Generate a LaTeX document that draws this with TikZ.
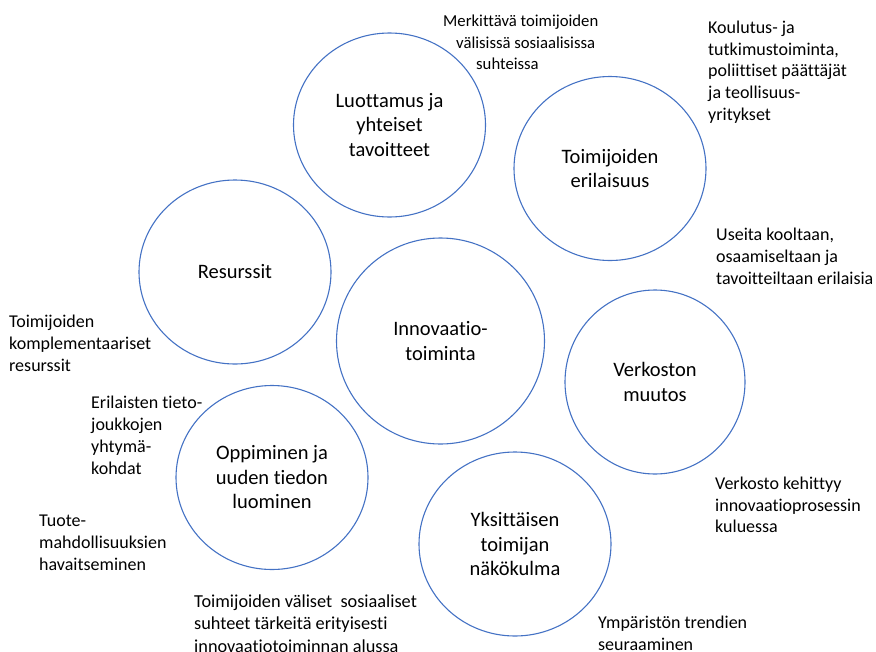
\documentclass[tikz,border=0pt]{standalone}
\usepackage{fontspec}
\setmainfont{Carlito}[Ligatures={NoCommon,NoContextual}]
\usetikzlibrary{shapes.geometric}
\definecolor{ringblue}{RGB}{68,114,196}

\begin{document}
\begin{tikzpicture}
[x=1pt, y=-1pt, circbox/.style={ellipse,draw=ringblue,line width=1.1pt,minimum width=192pt,minimum height=184pt,inner sep=0pt,align=center,font=\fontsize{20.5}{24.5}\selectfont},
bigbox/.style={circbox,minimum width=208pt,minimum height=206pt},
notebox/.style={anchor=west,inner sep=0pt,align=left,font=\fontsize{18}{21.8}\selectfont}]
\useasboundingbox (0,0) rectangle (876,651);
\node[circbox] (luottamus) at (389.5,125) {Luottamus ja\\yhteiset\\tavoitteet};
\node[circbox] (erilaisuus) at (610,168.5) {Toimijoiden\\erilaisuus};
\node[circbox] (resurssit) at (235,272) {Resurssit};
\node[bigbox] (innovaatio) at (440.5,341) {Innovaatio-\\toiminta};
\node[circbox,minimum width=180pt] (muutos) at (655,382) {Verkoston\\muutos};
\node[circbox] (oppiminen) at (272,477.5) {Oppiminen ja\\uuden tiedon\\luominen};
\node[circbox] (nakokulma) at (515,544) {Yksittäisen\\toimijan\\näkökulma};

\node[notebox,font=\fontsize{16.7}{21.5}\selectfont] (merkittava) at (443,42.5) {Merkittävä toimijoiden\\\hspace*{13pt}välisissä sosiaalisissa\\\hspace*{33pt}suhteissa};
\node[notebox] (koulutus) at (708,72) {Koulutus- ja\\tutkimustoiminta,\\poliittiset päättäjät\\ja teollisuus-\\yritykset};
\node[notebox] (useita) at (716,256.5) {Useita kooltaan,\\osaamiseltaan ja\\tavoitteiltaan erilaisia};
\node[notebox] (komplementaariset) at (9,343.5) {Toimijoiden\\komplementaariset\\resurssit};
\node[notebox] (tietojoukot) at (91,435.5) {Erilaisten tieto-\\joukkojen\\yhtymä-\\kohdat};
\node[notebox] (tuote) at (39,542.5) {Tuote-\\mahdollisuuksien\\havaitseminen};
\node[notebox,font=\fontsize{18.3}{22.5}\selectfont] (suhteet) at (194,623.5) {Toimijoiden väliset\ \ sosiaaliset\\suhteet tärkeitä erityisesti\\innovaatiotoiminnan alussa};
\node[notebox] (kehittyy) at (715,505) {Verkosto kehittyy\\innovaatioprosessin\\kuluessa};
\node[notebox] (trendit) at (598,633.5) {Ympäristön trendien\\seuraaminen};
\end{tikzpicture}
\end{document}
